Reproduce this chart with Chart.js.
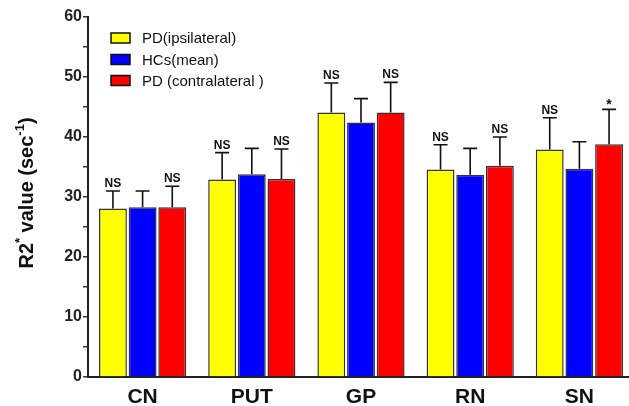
<!DOCTYPE html>
<html>
<head>
<meta charset="utf-8">
<script src="https://cdn.jsdelivr.net/npm/chart.js@4"></script>
<style>
html,body{margin:0;padding:0;background:#fff;overflow:hidden;}
#wrap{width:629px;height:406px;overflow:hidden;}
canvas{display:block;}
</style>
</head>
<body>
<div id="wrap"><canvas id="c" width="634" height="406"></canvas></div>
<script>
const categories = ["CN", "PUT", "GP", "RN", "SN"];
const seriesNames = ["PD(ipsilateral)", "HCs(mean)", "PD (contralateral )"];
const ipsiValues = [28.1, 32.9, 44.1, 34.6, 37.9];
const hcValues = [28.3, 33.8, 42.4, 33.7, 34.7];
const contraValues = [28.3, 33.0, 44.1, 35.2, 38.8];
const ipsiUpper = [31.0, 37.4, 49.0, 38.7, 43.2];
const hcUpper = [31.0, 38.1, 46.4, 38.1, 39.2];
const contraUpper = [31.8, 38.0, 49.1, 40.0, 44.6];
const ipsiNotes = ["NS", "NS", "NS", "NS", "NS"];
const hcNotes = ["", "", "", "", ""];
const contraNotes = ["NS", "NS", "NS", "NS", "*"];
const yTicks = [0, 10, 20, 30, 40, 50, 60];

const colors = ["#FFFF00", "#0000FF", "#FF0000"];
const uppers = [ipsiUpper, hcUpper, contraUpper];
const notes = [ipsiNotes, hcNotes, contraNotes];

const errorPlugin = {
  id: 'errs',
  afterDatasetsDraw(chart) {
    const ctx = chart.ctx;
    const ys = chart.scales.y;
    ctx.save();
    chart.data.datasets.forEach((ds, i) => {
      const meta = chart.getDatasetMeta(i);
      meta.data.forEach((bar, j) => {
        const x = bar.x;
        const yTop = bar.y;
        const yE = ys.getPixelForValue(uppers[i][j]);
        ctx.strokeStyle = '#111';
        ctx.lineWidth = 1.6;
        ctx.beginPath();
        ctx.moveTo(x, yTop);
        ctx.lineTo(x, yE);
        ctx.moveTo(x - 7, yE);
        ctx.lineTo(x + 7, yE);
        ctx.stroke();
        const n = notes[i][j];
        if (n) {
          ctx.fillStyle = '#111';
          ctx.textAlign = 'center';
          ctx.textBaseline = 'alphabetic';
          if (n === '*') {
            ctx.font = 'bold 14px Arial, "Liberation Sans"';
            ctx.fillText(n, x, yE - 0);
          } else {
            ctx.font = 'bold 12px Arial, "Liberation Sans"';
            ctx.fillText(n, x, yE - 4);
          }
        }
      });
    });
    ctx.restore();
  }
};

const legendPlugin = {
  id: 'legendBox',
  afterDraw(chart) {
    const ctx = chart.ctx;
    ctx.save();
    const rowsY = [38, 59.5, 80.5];
    seriesNames.forEach((name, i) => {
      const cy = rowsY[i];
      ctx.fillStyle = colors[i];
      ctx.fillRect(111, cy - 5, 19, 10);
      ctx.strokeStyle = '#111';
      ctx.lineWidth = 1.5;
      ctx.strokeRect(111, cy - 5, 19, 10);
      ctx.fillStyle = '#111';
      ctx.font = '15px Arial, "Liberation Sans"';
      ctx.textAlign = 'left';
      ctx.textBaseline = 'middle';
      ctx.fillText(name, 142, cy + 1);
    });
    ctx.restore();
  }
};

const titlePlugin = {
  id: 'yTitle',
  afterDraw(chart) {
    const ctx = chart.ctx;
    ctx.save();
    ctx.translate(33, 193);
    ctx.rotate(-Math.PI / 2);
    const main = 'bold 20px Arial, "Liberation Sans"';
    const sup = 'bold 13px Arial, "Liberation Sans"';
    const parts = [["R2", main, 0], ["*", sup, -9], [" value (sec", main, 0], ["-1", sup, -9], [")", main, 0]];
    let total = 0;
    parts.forEach(p => { ctx.font = p[1]; total += ctx.measureText(p[0]).width; });
    let x = -total / 2;
    ctx.fillStyle = '#111';
    ctx.textBaseline = 'alphabetic';
    ctx.textAlign = 'left';
    parts.forEach(p => {
      ctx.font = p[1];
      ctx.fillText(p[0], x, p[2]);
      x += ctx.measureText(p[0]).width;
    });
    ctx.restore();
  }
};

new Chart(document.getElementById('c'), {
  type: 'bar',
  data: {
    labels: categories,
    datasets: [
      { label: seriesNames[0], data: ipsiValues, backgroundColor: colors[0] },
      { label: seriesNames[1], data: hcValues, backgroundColor: colors[1] },
      { label: seriesNames[2], data: contraValues, backgroundColor: colors[2] }
    ].map(d => Object.assign(d, { borderColor: '#333', borderWidth: 1.5, categoryPercentage: 0.815, barPercentage: 0.94 }))
  },
  options: {
    responsive: false,
    animation: false,
    layout: { padding: { left: 0, right: 0, top: 17, bottom: 0 } },
    plugins: { legend: { display: false }, tooltip: { enabled: false } },
    scales: {
      x: {
        grid: { display: false },
        border: { display: true, color: '#222', width: 2 },
        ticks: { font: { family: 'Arial, "Liberation Sans"', size: 21, weight: 'bold' }, color: '#111', padding: 0 },
        afterFit(s) { s.height = 29; }
      },
      y: {
        min: 0, max: 60,
        afterBuildTicks(s) {
          const t = [];
          for (let v = 0; v <= 60; v += 5) t.push({ value: v });
          s.ticks = t;
        },
        ticks: {
          callback: v => yTicks.includes(v) ? String(v) : '',
          font: { family: 'Arial, "Liberation Sans"', size: 16, weight: 'bold' },
          color: '#222', padding: 1, autoSkip: false
        },
        grid: { display: true, drawOnChartArea: false, drawTicks: true, tickLength: 5, color: '#333', lineWidth: 1.5 },
        border: { display: true, color: '#222', width: 2 },
        afterFit(s) { s.width = 88; }
      }
    }
  },
  plugins: [errorPlugin, legendPlugin, titlePlugin]
});
</script>
</body>
</html>
